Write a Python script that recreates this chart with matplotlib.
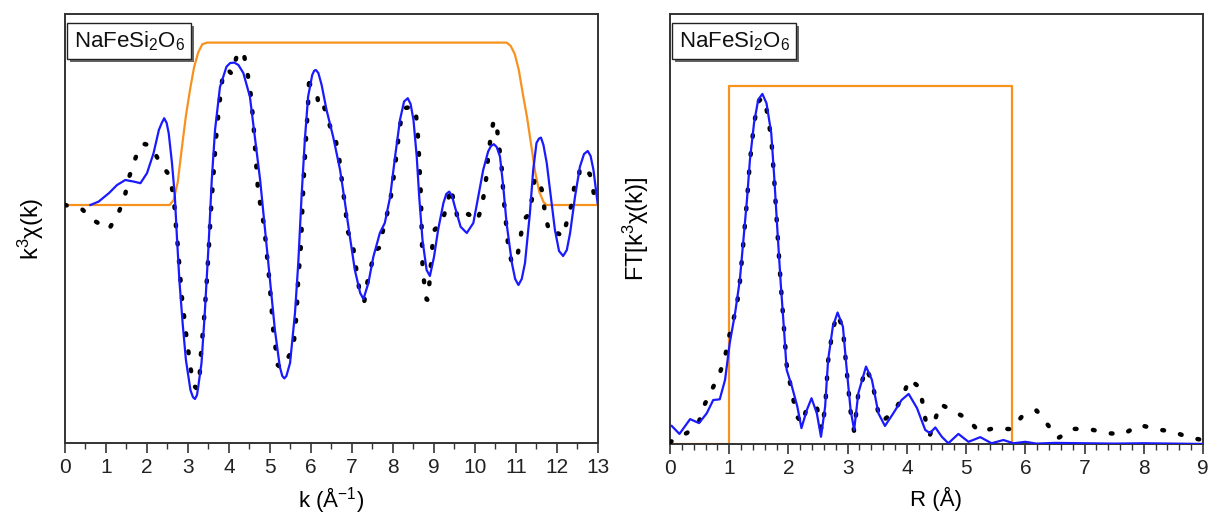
import matplotlib
matplotlib.use("Agg")
import matplotlib.pyplot as plt
import matplotlib.patheffects as pe
from matplotlib.ticker import MultipleLocator
import numpy as np

plt.rcParams['font.family'] = ['Liberation Sans', 'DejaVu Sans']
plt.rcParams['mathtext.fontset'] = 'custom'
plt.rcParams['mathtext.rm'] = 'Liberation Sans'
plt.rcParams['mathtext.default'] = 'regular'

# k-space: fitted k^3 chi(k)
fit_k = [0.62, 0.82, 1.07, 1.27, 1.47, 1.68, 1.84, 2.00, 2.16, 2.29, 2.36, 2.42, 2.48, 2.53,
         2.61, 2.68, 2.73, 2.79, 2.87, 2.95, 3.06, 3.12, 3.17, 3.22, 3.25, 3.33, 3.41, 3.50,
         3.58, 3.66, 3.78, 3.94, 4.03, 4.13, 4.23, 4.35, 4.51, 4.63, 4.76, 4.88, 5.00, 5.12,
         5.24, 5.30, 5.35, 5.40, 5.49, 5.61, 5.69, 5.77, 5.85, 5.93, 6.03, 6.08, 6.12, 6.18,
         6.26, 6.38, 6.54, 6.71, 6.83, 6.95, 7.07, 7.20, 7.28, 7.40, 7.52, 7.68, 7.80, 7.93,
         8.05, 8.17, 8.27, 8.36, 8.43, 8.50, 8.58, 8.64, 8.72, 8.82, 8.90, 9.00, 9.10, 9.23,
         9.30, 9.37, 9.44, 9.51, 9.65, 9.80, 9.96, 10.08, 10.20, 10.32, 10.39, 10.46, 10.53,
         10.61, 10.69, 10.77, 10.90, 10.98, 11.06, 11.14, 11.22, 11.34, 11.42, 11.50, 11.56,
         11.61, 11.67, 11.75, 11.85, 11.95, 12.05, 12.15, 12.24, 12.32, 12.44, 12.56, 12.66,
         12.75, 12.82, 12.89, 12.99]
fit_chi = [0.0, 0.17, 0.59, 1.0, 1.25, 1.17, 1.09, 1.59, 2.59, 3.75, 4.1, 4.34, 4.1, 3.59,
           2.09, 0.42, -1.59, -3.75, -5.92, -7.75, -9.25, -9.6, -9.7, -9.5, -9.09, -7.9, -5.4, -2.1,
           1.25, 3.75, 5.9, 6.92, 7.1, 7.12, 7.0, 6.6, 5.42, 3.42, 1.25, -1.25, -3.75, -6.25,
           -8.09, -8.55, -8.67, -8.55, -7.9, -5.4, -2.9, 0.42, 3.25, 5.42, 6.5, 6.72, 6.75, 6.6,
           6.0, 4.75, 3.42, 1.75, 0.1, -1.6, -3.25, -4.4, -4.7, -3.9, -2.6, -1.4, -0.9, 0.4,
           2.4, 4.25, 5.17, 5.34, 5.05, 4.25, 2.4, 0.4, -1.75, -3.25, -3.55, -2.6, -1.25, 0.1,
           0.55, 0.67, 0.45, -0.09, -1.09, -1.4, -0.9, 0.42, 1.75, 2.67, 2.95, 3.04, 2.9,
           2.42, 0.92, -0.9, -2.9, -3.7, -4.0, -3.7, -2.9, -0.4, 1.75, 3.1, 3.32,
           3.37, 3.0, 2.1, 0.42, -1.25, -2.3, -2.55, -2.25, -1.4, 0.42, 1.92, 2.55,
           2.7, 2.45, 1.75, 0.1]

# k-space: measured k^3 chi(k)
data_k = [0.00, 0.41, 0.71, 1.07, 1.31, 1.46, 1.55, 1.68, 1.82, 1.95, 2.10, 2.31, 2.55, 2.63,
          2.68, 2.71, 2.75, 2.85, 2.95, 3.06, 3.13, 3.20, 3.27, 3.32, 3.40, 3.46, 3.51, 3.56,
          3.62, 3.68, 3.76, 3.86, 3.98, 4.07, 4.19, 4.35, 4.43, 4.51, 4.59, 4.65, 4.71, 4.86,
          4.98, 5.08, 5.19, 5.27, 5.37, 5.57, 5.65, 5.69, 5.76, 5.79, 5.83, 5.88, 5.93, 5.96,
          5.98, 6.14, 6.20, 6.32, 6.46, 6.61, 6.69, 6.79, 6.85, 6.88, 7.01, 7.07, 7.13, 7.20,
          7.30, 7.36, 7.46, 7.56, 7.66, 7.72, 7.82, 7.93, 7.99, 8.05, 8.10, 8.15, 8.21, 8.29,
          8.36, 8.44, 8.54, 8.59, 8.62, 8.64, 8.66, 8.68, 8.69, 8.70, 8.71, 8.72, 8.76, 8.82,
          8.85, 8.89, 8.96, 9.02, 9.19, 9.27, 9.32, 9.41, 9.49, 9.59, 9.71, 9.84, 10.04, 10.16,
          10.23, 10.29, 10.32, 10.38, 10.45, 10.49, 10.53, 10.57, 10.63, 10.67, 10.69, 10.73,
          10.77, 10.81, 10.90, 10.95, 11.04, 11.11, 11.18, 11.32, 11.40, 11.45, 11.54, 11.63,
          11.69, 11.77, 11.85, 12.03, 12.15, 12.24, 12.36, 12.42, 12.52, 12.56, 12.66, 12.80,
          12.89, 12.97]
data_chi = [0.0, -0.2, -0.78, -1.22, -0.38, 0.45, 1.3, 2.12, 2.92, 3.05, 2.95, 2.14, 1.47, 0.62,
            -0.25, -1.15, -2.0, -4.58, -6.38, -8.1, -9.0, -9.15, -9.05, -7.33, -5.5, -3.75, -2.08, -0.3,
            1.5, 3.25, 4.95, 6.68, 6.75, 6.55, 7.45, 7.7, 6.8, 5.95, 4.25, 2.45, 0.67, -1.08,
            -3.65, -6.25, -8.0, -8.15, -7.9, -7.15, -5.4, -3.65, -1.9, -0.15, 1.6, 3.35, 5.1, 6.5,
            5.95, 5.67, 4.75, 4.9, 3.97, 3.17, 2.3, 0.6, -0.33, -1.25, -1.83, -2.7, -3.58, -4.5,
            -4.83, -4.0, -3.12, -2.25, -2.15, -1.58, -0.75, 0.17, 1.0, 1.92, 2.75, 3.62, 4.45, 4.85,
            4.87, 4.87, 4.87, 4.0, 3.1, 2.25, 1.37, 0.5, -0.38, -1.25, -2.12, -3.0, -3.87, -4.72,
            -4.75, -3.87, -2.08, -1.22, -0.92, -0.33, 0.0, 0.87, 0.12, -0.75, -0.6, -0.45, -0.83, -0.17,
            0.7, 1.58, 2.45, 3.33, 4.17, 4.25, 4.0, 3.2, 2.3, 1.42, 0.55, -0.33,
            -1.2, -2.05, -2.92, -2.85, -2.5, -1.62, -0.75, -0.45, 0.42, 1.28, 1.35, 0.75,
            -0.13, -1.0, -1.5, -1.42, -1.58, -0.83, 0.05, 0.88, 1.08, 1.92, 1.78, 1.55,
            0.67, -0.2]

# k-space transform window (fraction of full height)
win_k = [0.0, 2.55, 2.65, 2.75, 2.85, 2.95, 3.05, 3.15, 3.25, 3.35, 3.47, 10.77, 10.87, 10.97,
         11.07, 11.17, 11.27, 11.37, 11.47, 11.57, 11.67, 11.74, 13.0]
win_k_w = [0, 0, 0.03, 0.14, 0.35, 0.55, 0.71, 0.85, 0.94, 0.99, 1, 1, 0.98, 0.93,
           0.83, 0.68, 0.54, 0.37, 0.2, 0.08, 0.02, 0, 0]
win_k_height = 8.12

# R-space: fitted |FT|
fit_r = [0.03, 0.16, 0.34, 0.49, 0.62, 0.73, 0.84, 0.93, 1.01, 1.10, 1.18, 1.24, 1.30, 1.35,
         1.42, 1.49, 1.56, 1.63, 1.71, 1.76, 1.81, 1.87, 1.93, 1.97, 2.06, 2.15, 2.22, 2.31,
         2.39, 2.48, 2.55, 2.62, 2.67, 2.75, 2.83, 2.92, 2.98, 3.05, 3.11, 3.18, 3.31, 3.41,
         3.52, 3.63, 3.77, 3.91, 4.03, 4.17, 4.31, 4.39, 4.48, 4.59, 4.70, 4.87, 5.04, 5.24,
         5.43, 5.63, 5.80, 6.00, 6.19, 6.50, 7.00, 7.50, 8.00, 8.50, 9.00]
fit_ft = [0.5, 0.28, 0.69, 0.58, 0.85, 1.22, 1.24, 1.78, 2.81, 3.64, 4.56, 5.67, 6.78, 7.89,
          8.92, 9.56, 9.72, 9.46, 8.63, 7.42, 6.04, 4.46, 3.07, 2.06, 1.59, 1.04, 0.44, 0.94,
          1.27, 0.85, 0.2, 1.04, 2.33, 3.26, 3.65, 3.26, 2.15, 0.94, 0.39, 1.41, 2.15, 1.78,
          0.85, 0.5, 0.85, 1.22, 1.39, 1.0, 0.39, 0.3, 0.46, 0.2, 0.02, 0.28, 0.06, 0.19,
          0.02, 0.11, 0.02, 0.06, 0.01, 0.03, 0.02, 0.01, 0.02, 0.01, 0.0]

# R-space: measured |FT|
data_r = [0.0, 0.29, 0.49, 0.58, 0.70, 0.84, 0.93, 0.98, 1.06, 1.13, 1.18, 1.24, 1.30, 1.35,
          1.42, 1.49, 1.56, 1.63, 1.71, 1.76, 1.81, 1.87, 1.93, 1.97, 2.06, 2.15, 2.24, 2.31,
          2.39, 2.48, 2.56, 2.62, 2.67, 2.75, 2.83, 2.92, 2.98, 3.05, 3.11, 3.18, 3.31, 3.41,
          3.52, 3.58, 3.80, 3.94, 4.04, 4.21, 4.27, 4.32, 4.39, 4.48, 4.56, 4.77, 5.03, 5.22,
          5.48, 5.77, 5.95, 6.19, 6.38, 6.55, 6.81, 7.09, 7.39, 7.65, 7.93, 8.21, 8.50, 8.76, 9.0]
data_ft = [0.05, 0.31, 0.62, 1.08, 1.48, 1.96, 2.41, 2.87, 3.37, 3.86, 4.5, 5.6, 6.75, 7.85,
           8.9, 9.5, 9.62, 9.3, 8.5, 7.35, 6.0, 4.45, 3.1, 2.2, 1.4, 0.75, 0.56, 1.02,
           1.02, 1.02, 0.39, 1.0, 2.3, 3.2, 3.6, 3.2, 2.1, 0.9, 0.35, 1.4, 2.1, 1.75,
           0.85, 0.62, 0.93, 1.36, 1.80, 1.58, 1.11, 0.62, 0.25, 0.69, 1.11, 0.93, 0.69, 0.34,
           0.44, 0.41, 0.78, 0.93, 0.53, 0.16, 0.42, 0.41, 0.30, 0.27, 0.53, 0.41, 0.34, 0.18, 0.11]

# R-space window (box)
win_r = [0.0, 1.0, 1.0, 5.77, 5.77, 9.0]
win_r_w = [0, 0, 1, 1, 0, 0]
win_r_height = 9.94

BLUE = '#1a1aff'
ORANGE = '#f7921f'
SPINE = '#333333'


def style_axes(ax, minor_step):
    for s in ax.spines.values():
        s.set_color(SPINE)
        s.set_linewidth(1.4)
    ax.xaxis.set_major_locator(MultipleLocator(1))
    ax.xaxis.set_minor_locator(MultipleLocator(minor_step))
    ax.tick_params(axis='x', which='major', direction='out', length=7, width=1.2,
                   colors=SPINE, labelcolor='#222222', labelsize=15, pad=4)
    ax.tick_params(axis='x', which='minor', direction='out', length=4, width=1.0, colors=SPINE)
    ax.set_yticks([])


def sample_box(ax):
    t = ax.text(0.016, 0.965, 'NaFeSi$_2$O$_6$', transform=ax.transAxes, ha='left', va='top',
                fontsize=16, color='#111111', zorder=5,
                bbox=dict(boxstyle='square,pad=0.28', fc='white', ec='#222222', lw=1.0))
    t.get_bbox_patch().set_path_effects([
        pe.SimplePatchShadow(offset=(2, -2), shadow_rgbFace='#555555', alpha=0.9),
        pe.Normal()])


fig = plt.figure(figsize=(12.1, 5.15), dpi=100)
ax1 = fig.add_axes([0.0537, 0.1398, 0.4405, 0.833])
ax2 = fig.add_axes([0.5537, 0.1379, 0.4405, 0.835])

# --- k space ---
ax1.plot(win_k, np.array(win_k_w) * win_k_height, color=ORANGE, lw=1.6, zorder=2)
dots, = ax1.plot(data_k, data_chi, color='black', lw=3.2, dash_capstyle='round', zorder=3)
dots.set_dashes([0.4, 3.7])
ax1.plot(fit_k, fit_chi, color=BLUE, lw=1.6, zorder=4)
ax1.set_xlim(0, 13)
ax1.set_ylim(-11.9, 9.55)
style_axes(ax1, 0.5)
ax1.set_xlabel('k (Å$^{-1}$)', fontsize=16, labelpad=6)
ax1.set_ylabel('k$^3$χ(k)', fontsize=17, labelpad=14)
sample_box(ax1)

# --- R space ---
ax2.plot(win_r, np.array(win_r_w) * win_r_height, color=ORANGE, lw=1.6, zorder=2)
dots2, = ax2.plot(data_r, data_ft, color='black', lw=3.2, dash_capstyle='round', zorder=3)
dots2.set_dashes([0.4, 3.7])
ax2.plot(fit_r, fit_ft, color=BLUE, lw=1.6, zorder=4)
ax2.set_xlim(0, 9)
ax2.set_ylim(0, 11.94)
style_axes(ax2, 0.2)
ax2.set_xlabel('R (Å)', fontsize=16, labelpad=6)
ax2.set_ylabel('FT[k$^3$χ(k)]', fontsize=17, labelpad=14)
sample_box(ax2)

fig.savefig('out.png', dpi=100)
